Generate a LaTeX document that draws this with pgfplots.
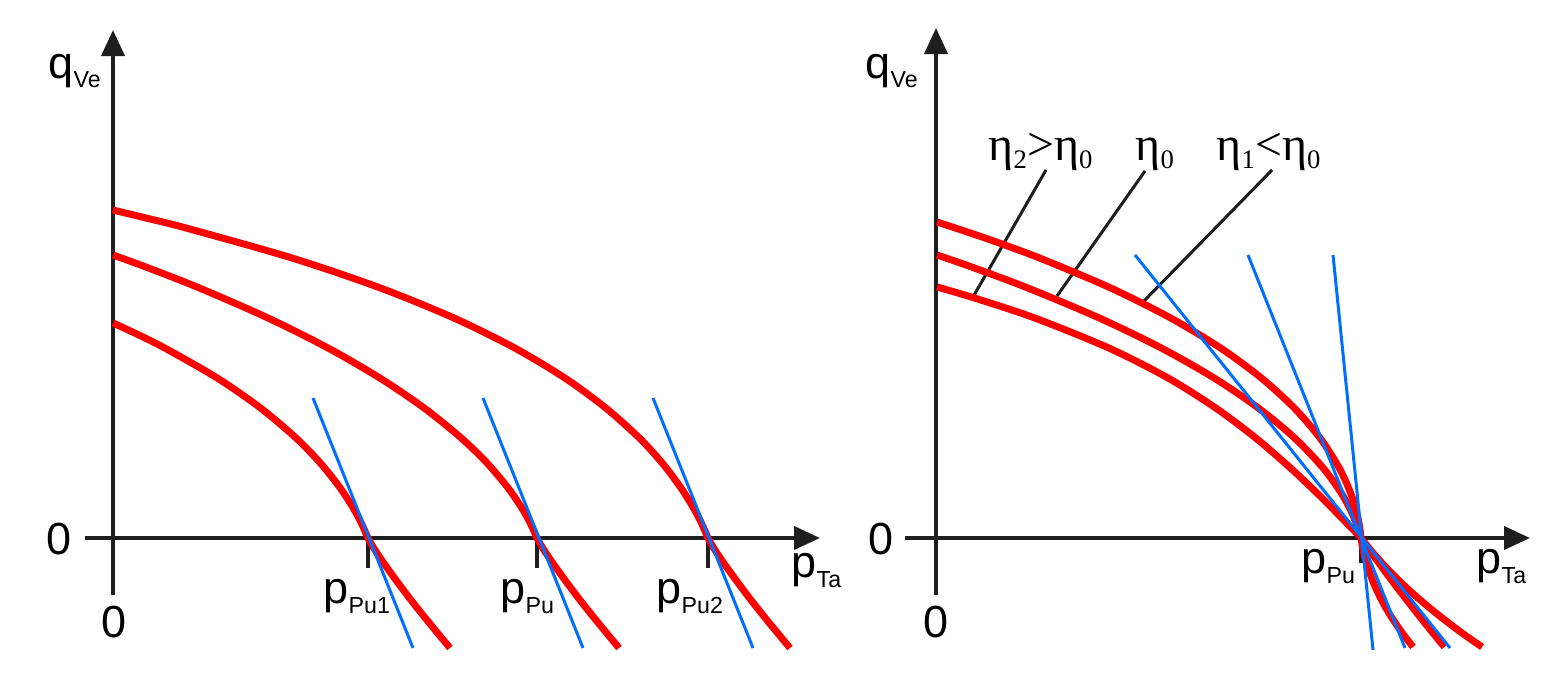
\documentclass[border=0pt]{standalone}
\usepackage{pgfplots}
\pgfplotsset{compat=1.18}
\usepackage{fontspec}
\setmainfont{Liberation Sans}
\newfontfamily\serifeta{Liberation Serif}
\usetikzlibrary{arrows.meta}
\definecolor{cred}{RGB}{255,0,0}
\definecolor{cblue}{RGB}{0,110,255}
\definecolor{cax}{RGB}{30,30,30}
\newcommand{\mainsz}{\fontsize{12.8}{14}\selectfont}
\newcommand{\lbl}[2]{{\mainsz #1}\raisebox{-2.6pt}{\fontsize{6.6}{7}\selectfont #2}}
\newcommand{\etalbl}[1]{{\fontsize{13.6}{15}\selectfont\serifeta η}\raisebox{-2.3pt}{\fontsize{7.6}{8}\selectfont\serifeta #1}}
\begin{document}
\begin{tikzpicture}
\begin{axis}[scale only axis, width=15.59cm, height=6.8cm,
  xmin=0, xmax=1559, ymin=0, ymax=680, y dir=reverse,
  hide axis, clip=false]
\path (axis cs:0,0) rectangle (axis cs:1559,680);
% ---------- left panel axes
\addplot[cax, line width=0.4mm, -{Triangle[length=2.6mm,width=2.3mm]}] coordinates {(113,595) (113,30)};
\addplot[cax, line width=0.4mm, -{Triangle[length=2.6mm,width=2.3mm]}] coordinates {(85,538) (820,538)};
\addplot[cax, line width=0.35mm] coordinates {(368,538) (368,568)};
\addplot[cax, line width=0.35mm] coordinates {(537,538) (537,568)};
\addplot[cax, line width=0.35mm] coordinates {(708,538) (708,568)};
% ---------- right panel axes
\addplot[cax, line width=0.4mm, -{Triangle[length=2.6mm,width=2.3mm]}] coordinates {(936,595) (936,28)};
\addplot[cax, line width=0.4mm, -{Triangle[length=2.6mm,width=2.3mm]}] coordinates {(905,538) (1530,538)};
\addplot[cax, line width=0.35mm] coordinates {(1361,538) (1361,563)};
% leader lines
\addplot[cax, line width=0.3mm] coordinates {(1046,170) (973,297)};
\addplot[cax, line width=0.3mm] coordinates {(1145,171) (1057,296)};
\addplot[cax, line width=0.3mm] coordinates {(1272,170) (1143,302)};
% ---------- left red curves
\addplot[cred, line width=0.7mm, smooth] coordinates {
(112.8,210) (146,218) (186,228) (292,258) (380.4,288) (453.9,318) (514.7,348)
(564.8,378) (605.8,408) (639.3,438) (662.2,463) (681,488) (693.5,508) (701.4,523)
(708,538) (710.7,543) (713.7,548) (720.2,558) (727.2,568) (738.1,583) (749.4,598)
(761.2,613) (773.4,628) (790,648)};
\addplot[cred, line width=0.7mm, smooth] coordinates {
(113,255) (148.5,268) (199.4,288) (268,318) (328,348) (379.8,378) (424.1,408)
(461.2,438) (487,463) (508.1,488) (521.8,508) (530.2,523) (537,538)
(539.7,543) (542.7,548) (549.2,558) (556.2,568) (567.1,583) (578.4,598)
(590.2,613) (602.4,628) (619,648)};
\addplot[cred, line width=0.7mm, smooth] coordinates {
(113,323) (134.6,333) (164.7,348) (217.2,378) (260.5,408) (296,438) (320.3,463)
(340.2,488) (353.2,508) (361.3,523) (368,538)
(370.7,543) (373.7,548) (380.2,558) (387.2,568) (398.1,583) (409.4,598)
(421.2,613) (433.4,628) (450,648)};
% left blue tangents
\addplot[cblue, line width=0.3mm] coordinates {(313,398) (413,648)};
\addplot[cblue, line width=0.3mm] coordinates {(483,398) (583,648)};
\addplot[cblue, line width=0.3mm] coordinates {(653,398) (753,648)};
% ---------- right red curves
\addplot[cred, line width=0.7mm, smooth] coordinates {
(937,222) (985,238) (1039.5,258) (1110.7,288) (1170.6,318) (1220.5,348)
(1261.3,378) (1294.2,408) (1320,438) (1339.2,468) (1350.6,493) (1356.8,513)
(1359.8,528) (1361,538) (1362.7,548) (1365,558) (1369.7,573) (1375.7,588)
(1383.1,603) (1392,618) (1402.2,633) (1413,647)};
\addplot[cred, line width=0.7mm, smooth] coordinates {
(937,255) (974.4,268) (1027.8,288) (1099.3,318) (1161.2,348) (1214.1,378)
(1258.3,408) (1294.6,438) (1323.1,468) (1341.2,493) (1352,513) (1358,528)
(1361,538) (1371.6,553) (1386.2,573) (1401.3,593) (1416.9,613) (1432.9,633) (1444.4,647)};
\addplot[cred, line width=0.7mm, smooth] coordinates {
(937,287) (974.4,298) (1034.7,318) (1108.8,348) (1168,378) (1215.7,408)
(1255.7,438) (1290.4,468) (1316.9,493) (1336.9,513) (1351.5,528) (1361,538)
(1373,553) (1391.3,573) (1412.2,593) (1435.8,613) (1462,633) (1482,647)};
% right blue lines
\addplot[cblue, line width=0.3mm] coordinates {(1135,255) (1450,648)};
\addplot[cblue, line width=0.3mm] coordinates {(1248,255) (1405,648)};
\addplot[cblue, line width=0.3mm] coordinates {(1333,255) (1373,650)};
% ---------- labels left
\node[anchor=base west, inner sep=0] at (axis cs:48,78) {\lbl{q}{Ve}};
\node[anchor=base west, inner sep=0] at (axis cs:46,555) {\mainsz 0};
\node[anchor=base west, inner sep=0] at (axis cs:101,638) {\mainsz 0};
\node[anchor=base west, inner sep=0] at (axis cs:323,604) {\lbl{p}{Pu1}};
\node[anchor=base west, inner sep=0] at (axis cs:500,604) {\lbl{p}{Pu}};
\node[anchor=base west, inner sep=0] at (axis cs:656,604) {\lbl{p}{Pu2}};
\node[anchor=base west, inner sep=0] at (axis cs:791,578) {\lbl{p}{Ta}};
% ---------- labels right
\node[anchor=base west, inner sep=0] at (axis cs:865,78) {\lbl{q}{Ve}};
\node[anchor=base west, inner sep=0] at (axis cs:868,555) {\mainsz 0};
\node[anchor=base west, inner sep=0] at (axis cs:923,638) {\mainsz 0};
\node[anchor=base west, inner sep=0] at (axis cs:1301,574) {\lbl{p}{Pu}};
\node[anchor=base west, inner sep=0] at (axis cs:1476,574) {\lbl{p}{Ta}};
\node[anchor=base west, inner sep=0] at (axis cs:988,160) {\etalbl{2}{\fontsize{13.6}{15}\selectfont\serifeta >}\etalbl{0}};
\node[anchor=base west, inner sep=0] at (axis cs:1135,160) {\etalbl{0}};
\node[anchor=base west, inner sep=0] at (axis cs:1216,160) {\etalbl{1}{\fontsize{13.6}{15}\selectfont\serifeta <}\etalbl{0}};
\end{axis}
\end{tikzpicture}
\end{document}
